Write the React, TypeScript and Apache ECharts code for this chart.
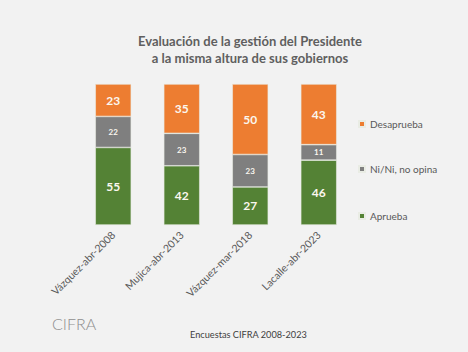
import React, { useEffect, useRef } from "react";
import * as echarts from "echarts";

const categories = ["Vázquez-abr-2008", "Mujica-abr-2013", "Vázquez-mar-2018", "Lacalle-abr-2023"];
const aprueba = [55, 42, 27, 46];
const nini = [22, 23, 23, 11];
const desaprueba = [23, 35, 50, 43];
const seriesNames = ["Aprueba", "Ni/Ni, no opina", "Desaprueba"];
const titleLines = ["Evaluación de la gestión del Presidente", "a la misma altura de sus gobiernos"];
const footer = "Encuestas CIFRA 2008-2023";

const FONT = "Lato, 'Open Sans', sans-serif";

export default function App() {
  const ref = useRef<HTMLDivElement>(null);
  useEffect(() => {
    if (!ref.current) return;
    const chart = echarts.init(ref.current, undefined, { renderer: "svg" });
    const mkSeries = (name: string, data: number[], color: string, fs: number) => ({
      name,
      type: "bar",
      stack: "total",
      data,
      barWidth: 36,
      itemStyle: { color, borderColor: "#e9ece4", borderWidth: 0.6 },
      label: {
        show: true,
        position: "inside",
        color: "#fbf7ef",
        fontWeight: "bold",
        fontSize: fs,
        fontFamily: FONT,
      },
    });
    chart.setOption({
      animation: false,
      backgroundColor: "#f2f2f2",
      textStyle: { fontFamily: FONT },
      title: {
        text: titleLines.join("\n"),
        left: 245,
        top: 27,
        textAlign: "center",
        textStyle: { fontSize: 13, fontWeight: "bold", color: "#5f5f5f", lineHeight: 17, fontFamily: FONT },
      },
      grid: { left: 79, right: 468 - 353, top: 84, bottom: 352 - 225, containLabel: false },
      xAxis: {
        type: "category",
        data: categories,
        axisLine: { show: false },
        axisTick: { show: false },
        axisLabel: { rotate: 45, margin: 8, fontSize: 10.5, color: "#595959", fontFamily: FONT, interval: 0 },
      },
      yAxis: { type: "value", min: 0, max: 100, show: false },
      legend: [
        { data: [seriesNames[2]], top: 114, left: 353 },
        { data: [seriesNames[1]], top: 159, left: 353 },
        { data: [seriesNames[0]], top: 206, left: 353 },
      ].map((l) => ({
        ...l,
        orient: "vertical",
        itemWidth: 6,
        itemHeight: 6,
        icon: "rect",
        textStyle: { fontSize: 10, color: "#595959", fontFamily: FONT },
      })),
      series: [
        mkSeries(seriesNames[0], aprueba, "#548235", 12),
        mkSeries(seriesNames[1], nini, "#7f7f7f", 8),
        mkSeries(seriesNames[2], desaprueba, "#ed7d31", 12),
      ],
      graphic: [
        {
          type: "text",
          left: 190,
          top: 330,
          style: { text: footer, fontSize: 9.2, fill: "#404040", fontFamily: FONT },
        },
        {
          type: "text",
          left: 52,
          top: 315,
          style: { text: "CIFRA", fontSize: 16, fill: "#8f8f8f", fontFamily: FONT, fontWeight: 300 },
        },
      ],
    });
    return () => chart.dispose();
  }, []);
  return <div ref={ref} style={{ position: "fixed", left: 0, top: 0, width: 468, height: 352 }} />;
}
